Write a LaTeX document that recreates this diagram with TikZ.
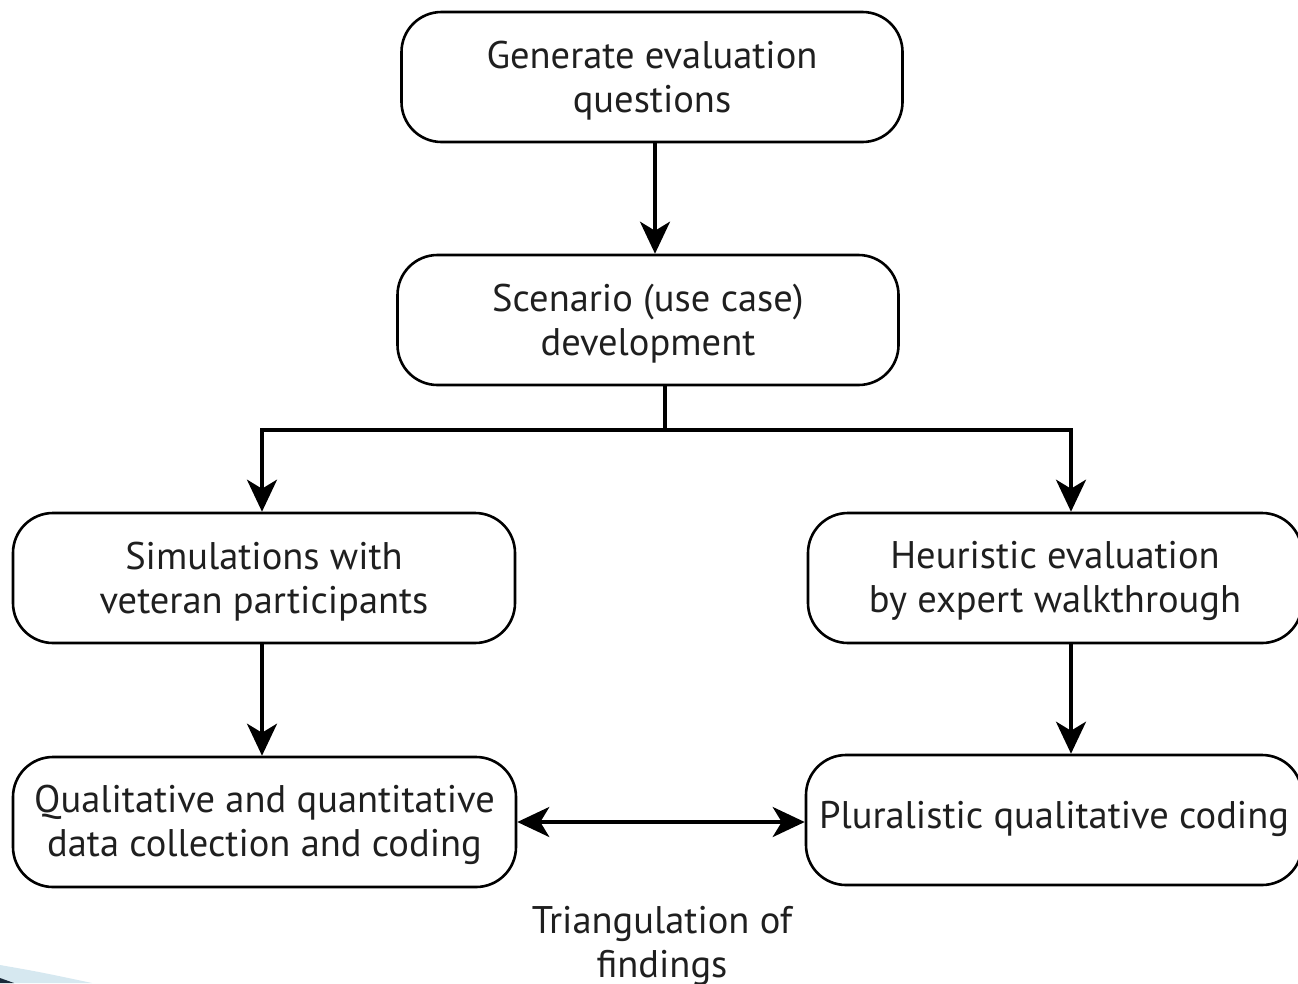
\documentclass[tikz,border=0pt]{standalone}
\usepackage{fontspec}
\setmainfont{PT Sans}
\usetikzlibrary{arrows.meta}
\definecolor{swoosh}{HTML}{D6E8F0}
\definecolor{swooshdark}{HTML}{1A2A3A}
\newcommand{\firstline}{\rule{0pt}{34pt}}
\tikzset{
  box/.style={draw, line width=2.6pt, rounded corners=40pt, align=center,
    font=\fontsize{38.5}{44}\selectfont, text=black!88},
  conn/.style={line width=3.6pt, -{Stealth[length=32pt,width=30pt,inset=9pt]}},
  biconn/.style={line width=3.6pt, {Stealth[length=32pt,width=30pt,inset=9pt]}-{Stealth[length=32pt,width=30pt,inset=9pt]}},
}
\begin{document}
\begin{tikzpicture}[x=1pt,y=-1pt]
\useasboundingbox (0,0) rectangle (1298,983);
\fill[swoosh] (0,965) .. controls (40,972) .. (92,983) -- (0,983) -- cycle;
\fill[swooshdark] (0,978) -- (14,983) -- (0,983) -- cycle;

\node[box, minimum width=501pt, minimum height=130pt] (gen) at (652,77) {\firstline Generate evaluation\\questions};
\node[box, minimum width=501pt, minimum height=130pt] (scen) at (648,320) {\firstline Scenario (use case)\\development};
\node[box, minimum width=502pt, minimum height=130pt] (sim) at (264,578) {\firstline Simulations with\\veteran participants};
\node[box, minimum width=494pt, minimum height=130pt] (heur) at (1055,578) {\firstline Heuristic evaluation\\by expert walkthrough};
\node[box, minimum width=503pt, minimum height=130pt] (qual) at (264.5,822) {\firstline Qualitative and quantitative\\data collection and coding};
\node[box, minimum width=496pt, minimum height=130pt, text depth=10pt] (plur) at (1054,820) {Pluralistic qualitative coding};
\node[align=center, font=\fontsize{38.5}{44}\selectfont, text=black!88] (tri) at (662,946) {Triangulation of\\findings};

\coordinate (split) at (665,430);
\draw[conn] ([xshift=3pt]gen.south) -- ([xshift=7pt]scen.north);
\draw[line width=3.6pt] ([xshift=17pt]scen.south) -- (split);
\draw[conn] (split) -| ([xshift=-2pt]sim.north);
\draw[conn] (split) -| ([xshift=16pt]heur.north);
\draw[conn] ([xshift=-2pt]sim.south) -- ([xshift=-2.5pt]qual.north);
\draw[conn] ([xshift=16pt]heur.south) -- ([xshift=17pt]plur.north);
\draw[biconn] (qual.east) -- (qual.east -| plur.west);
\end{tikzpicture}
\end{document}
